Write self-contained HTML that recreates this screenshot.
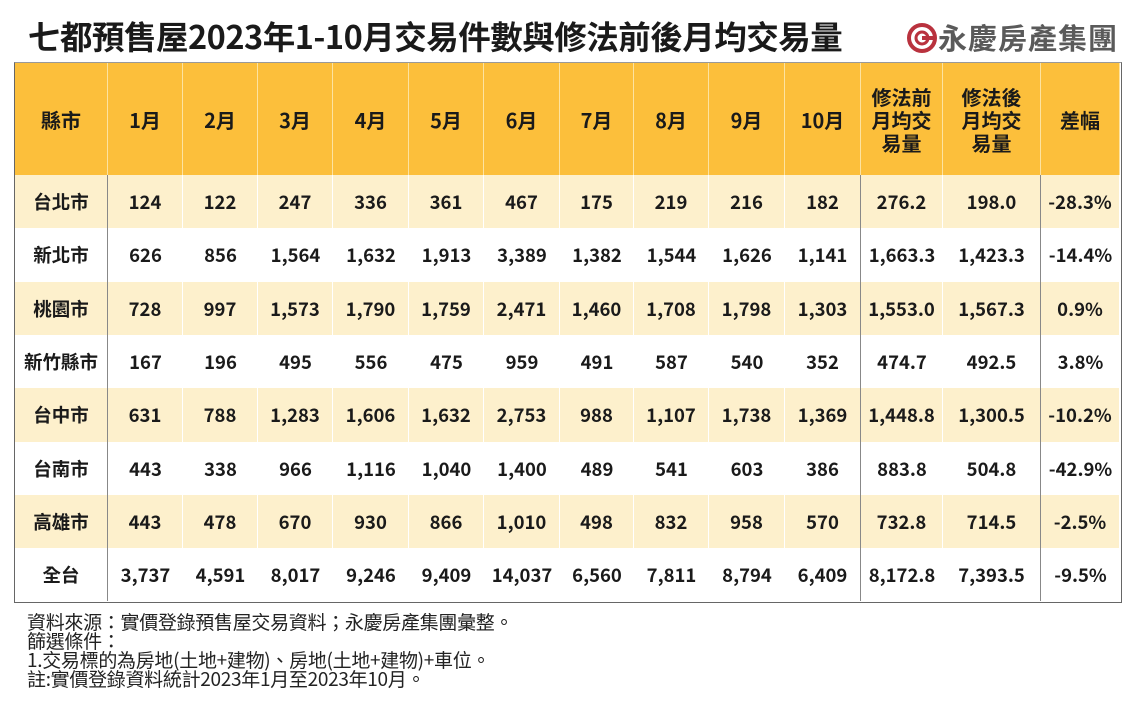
<!DOCTYPE html>
<html><head><meta charset="utf-8"><style>
body{margin:0;width:1138px;height:719px;background:#fff;position:relative;overflow:hidden;font-family:"Liberation Sans","Noto Sans CJK TC",sans-serif;color:#1a1a1a}
.t{position:absolute;left:28px;top:12px;font-size:32.5px;font-weight:bold;font-family:"Noto Sans CJK TC",sans-serif;letter-spacing:-0.5px;white-space:nowrap}
.logo{position:absolute;left:906px;top:16px;font-size:29px;font-weight:bold;color:#5a5a5a;font-family:"Noto Sans CJK TC",sans-serif;white-space:nowrap;letter-spacing:1px}
.c{position:absolute;display:flex;align-items:center;justify-content:center;text-align:center;font-weight:bold;font-size:18.5px;font-family:"Noto Sans CJK TC",sans-serif;box-sizing:border-box}
.h{font-size:20px;line-height:23px}
.fn{position:absolute;left:27px;top:612px;font-size:19px;line-height:19px;font-family:"Noto Sans CJK TC",sans-serif;color:#222;letter-spacing:-0.3px;white-space:nowrap}
</style></head><body>
<div class="t">七都預售屋2023年1-10月交易件數與修法前後月均交易量</div>
<div class="logo"><svg width="32" height="32" viewBox="0 0 32 32" style="vertical-align:-5px"><circle cx="16" cy="16" r="13" fill="none" stroke="#b9323e" stroke-width="4"/><circle cx="16" cy="16" r="6" fill="none" stroke="#b9323e" stroke-width="3"/><rect x="16" y="14" width="12" height="4" fill="#b9323e"/></svg>永慶房產集團</div>
<div id="tb"></div>
<div class="fn">資料來源：實價登錄預售屋交易資料；永慶房產集團彙整。<br>篩選條件：<br>1.交易標的為房地(土地+建物)、房地(土地+建物)+車位。<br>註:實價登錄資料統計2023年1月至2023年10月。</div>
<script>
var X=[15,108,183,258,333,409,484,560,634,709,785,861,943,1041,1120];
var Y=[63,175,228,282,335,388,442,495,548,601];
var H=["縣市","1月","2月","3月","4月","5月","6月","7月","8月","9月","10月","修法前<br>月均交<br>易量","修法後<br>月均交<br>易量","差幅"];
var D=[
["台北市","124","122","247","336","361","467","175","219","216","182","276.2","198.0","-28.3%"],
["新北市","626","856","1,564","1,632","1,913","3,389","1,382","1,544","1,626","1,141","1,663.3","1,423.3","-14.4%"],
["桃園市","728","997","1,573","1,790","1,759","2,471","1,460","1,708","1,798","1,303","1,553.0","1,567.3","0.9%"],
["新竹縣市","167","196","495","556","475","959","491","587","540","352","474.7","492.5","3.8%"],
["台中市","631","788","1,283","1,606","1,632","2,753","988","1,107","1,738","1,369","1,448.8","1,300.5","-10.2%"],
["台南市","443","338","966","1,116","1,040","1,400","489","541","603","386","883.8","504.8","-42.9%"],
["高雄市","443","478","670","930","866","1,010","498","832","958","570","732.8","714.5","-2.5%"],
["全台","3,737","4,591","8,017","9,246","9,409","14,037","6,560","7,811","8,794","6,409","8,172.8","7,393.5","-9.5%"]];
var s="";
function cell(x1,x2,y1,y2,txt,bg,cls,extra){s+='<div class="c '+cls+'" style="left:'+x1+'px;top:'+y1+'px;width:'+(x2-x1)+'px;height:'+(y2-y1)+'px;background:'+bg+';'+extra+'">'+txt+'</div>';}
for(var i=0;i<14;i++)cell(X[i],X[i+1],Y[0],Y[1],H[i],"#fcbf3b","h","border-right:1px solid #fde3a0;");
for(var r=0;r<8;r++){var bg=r%2==0?"#fdf0cc":"#fff";for(var i=0;i<14;i++){var br=(i==0||i==10||i==12)?"border-right:1px solid #888;":(r%2==0?"border-right:1px solid #fff;":"");cell(X[i],X[i+1],Y[r+1],Y[r+2],D[r][i],bg,"",br);}}
s+='<div style="position:absolute;left:14px;top:62px;width:1106px;height:539px;border:1.5px solid #666;border-top:1px solid #999;"></div>';
document.getElementById("tb").innerHTML=s;
</script>
</body></html>
